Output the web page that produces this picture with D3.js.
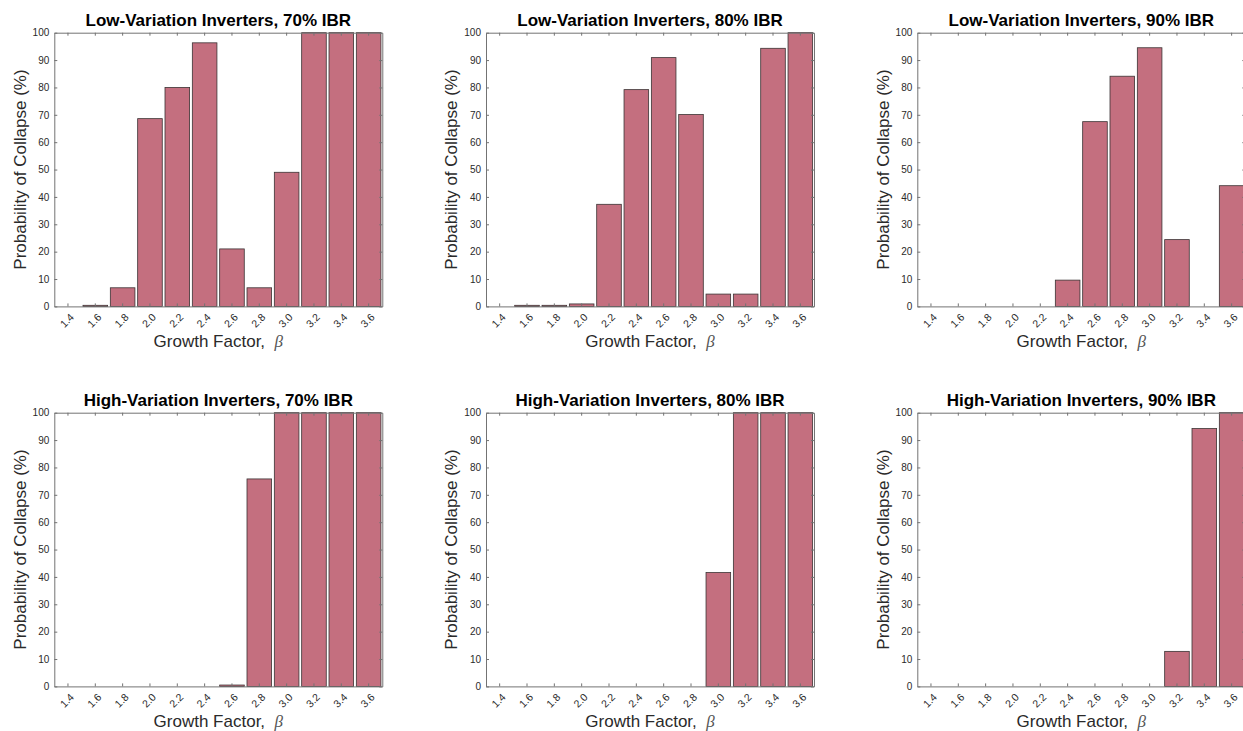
<!DOCTYPE html>
<html>
<head>
<meta charset="utf-8">
<script src="https://cdn.jsdelivr.net/npm/d3@7"></script>
<style>
  html, body { margin: 0; padding: 0; background: #fff; }
  svg { display: block; }
</style>
</head>
<body>
<script>
// ---- data ----
const categories = ["1.4","1.6","1.8","2.0","2.2","2.4","2.6","2.8","3.0","3.2","3.4","3.6"];
const yTickValues = [0,10,20,30,40,50,60,70,80,90,100];

const lowVar70  = [0, 0.4, 6.8, 68.6, 80.0, 96.3, 21.0, 6.8, 49.0, 100, 100, 100];
const lowVar80  = [0, 0.4, 0.4, 0.9, 37.3, 79.2, 90.9, 70.1, 4.5, 4.5, 94.3, 100];
const lowVar90  = [0, 0, 0, 0, 0, 9.6, 67.5, 84.1, 94.5, 24.4, 0, 44.1];
const highVar70 = [0, 0, 0, 0, 0, 0, 0.5, 75.8, 100, 100, 100, 100];
const highVar80 = [0, 0, 0, 0, 0, 0, 0, 0, 41.6, 100, 100, 100];
const highVar90 = [0, 0, 0, 0, 0, 0, 0, 0, 0, 12.8, 94.2, 100];

const titles = [
  "Low-Variation Inverters, 70% IBR",
  "Low-Variation Inverters, 80% IBR",
  "Low-Variation Inverters, 90% IBR",
  "High-Variation Inverters, 70% IBR",
  "High-Variation Inverters, 80% IBR",
  "High-Variation Inverters, 90% IBR"
];
const seriesList = [lowVar70, lowVar80, lowVar90, highVar70, highVar80, highVar90];

// ---- layout ----
const W = 1243, H = 731;
const colLefts = [54.3, 486, 917.3];
const rowTops = [32.7, 412.7];
const pw = 328, ph = 273.7;
const sansFont = "'Liberation Sans', Arial, Helvetica, sans-serif";
const barFill = "#C46F7F";
const barStroke = "#3b3334";
const axisColor = "#737373";
const textColor = "#2a2a2a";

const svg = d3.select("body").append("svg")
  .attr("width", W).attr("height", H)
  .style("background", "#fff");

seriesList.forEach((vals, i) => {
  const col = i % 3, row = Math.floor(i / 3);
  const g = svg.append("g")
    .attr("transform", `translate(${colLefts[col]},${rowTops[row]})`);

  const x = d3.scaleBand().domain(categories).range([0, pw])
    .paddingInner(0.1).paddingOuter(0.05);
  const y = d3.scaleLinear().domain([0, 100]).range([ph, 0]);

  // bars
  g.selectAll("rect.bar")
    .data(categories.map((c, k) => ({ c, v: vals[k] })))
    .join("rect")
    .attr("class", "bar")
    .attr("x", d => x(d.c))
    .attr("y", d => y(d.v))
    .attr("width", x.bandwidth())
    .attr("height", d => ph - y(d.v))
    .attr("fill", barFill)
    .attr("stroke", d => d.v > 0 ? barStroke : "none")
    .attr("stroke-width", 0.8);

  // axes
  const xb = g.append("g").attr("transform", `translate(0,${ph})`)
    .call(d3.axisBottom(x).tickSizeInner(-3).tickSizeOuter(0).tickPadding(0));
  xb.selectAll("text")
    .attr("x", 0).attr("y", 0).attr("dy", "0.35em")
    .attr("text-anchor", "middle")
    .attr("transform", "translate(-1,14) rotate(-45)")
    .style("font-family", sansFont).style("font-size", "10.5px")
    .attr("fill", textColor);

  g.append("g")
    .call(d3.axisTop(x).tickSizeInner(-3).tickSizeOuter(0).tickFormat(""));

  const yl = g.append("g")
    .call(d3.axisLeft(y).tickValues(yTickValues).tickSizeInner(-3).tickSizeOuter(0).tickPadding(5));
  yl.selectAll("text")
    .style("font-family", sansFont).style("font-size", "10px")
    .attr("fill", textColor);

  g.append("g").attr("transform", `translate(${pw},0)`)
    .call(d3.axisRight(y).tickValues(yTickValues).tickSizeInner(-3).tickSizeOuter(0).tickFormat(""));

  g.selectAll(".domain").attr("stroke", axisColor).attr("stroke-width", 1);
  g.selectAll(".tick line").attr("stroke", axisColor).attr("stroke-width", 1);

  // title
  g.append("text")
    .attr("x", pw / 2).attr("y", -6.7)
    .attr("text-anchor", "middle")
    .style("font-family", sansFont).style("font-size", "17px").style("font-weight", "bold")
    .attr("fill", "#000")
    .text(titles[i]);

  // y label
  g.append("text")
    .attr("transform", `translate(-34.3,${ph / 2}) rotate(-90)`)
    .attr("text-anchor", "middle")
    .attr("dominant-baseline", "central")
    .style("font-family", sansFont).style("font-size", "17px")
    .attr("fill", textColor)
    .text("Probability of Collapse (%)");

  // x label
  const xl = g.append("text")
    .attr("x", pw / 2).attr("y", ph + 41)
    .attr("text-anchor", "middle")
    .style("font-family", sansFont).style("font-size", "17px")
    .attr("fill", textColor);
  xl.append("tspan").text("Growth Factor,\u00a0\u00a0");
  xl.append("tspan")
    .style("font-family", "'Liberation Serif', 'DejaVu Serif', serif")
    .style("font-style", "italic")
    .attr("fill", "#555")
    .text("\u03b2");
});
</script>
</body>
</html>
